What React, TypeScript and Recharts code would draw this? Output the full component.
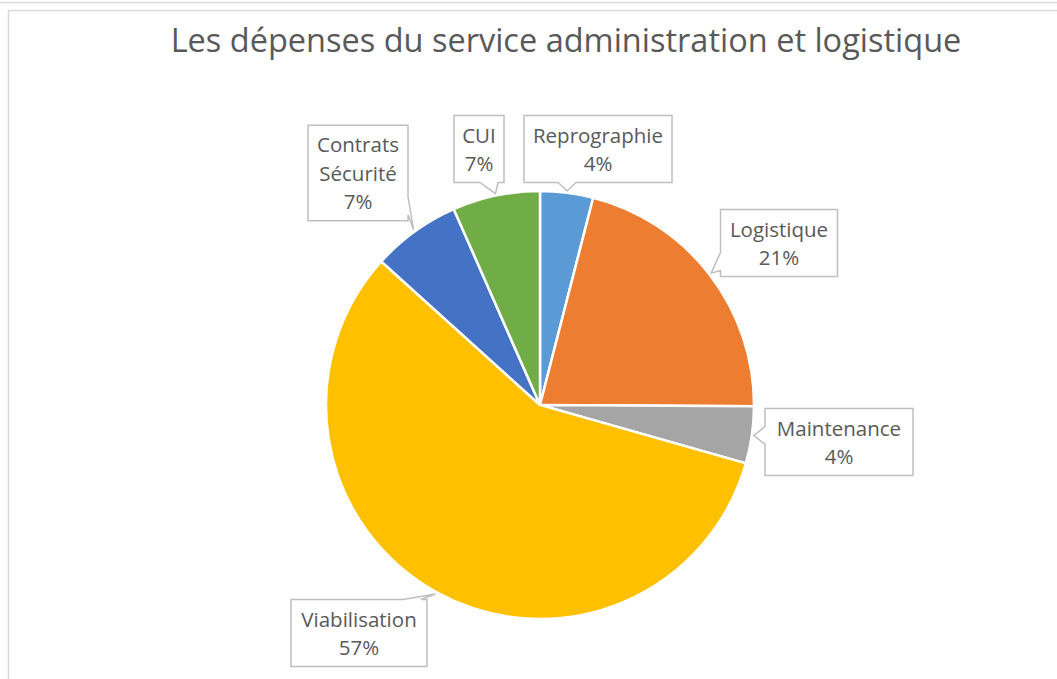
import React from 'react';
import { PieChart, Pie, Cell } from 'recharts';

const TITLE = 'Les dépenses du service administration et logistique';
const NAMES = ['Reprographie', 'Logistique', 'Maintenance', 'Viabilisation', 'Contrats Sécurité', 'CUI'];
const VALUES = [4.0, 21.1, 4.3, 57.3, 6.7, 6.6];
const COLORS = ['#5B9BD5', '#ED7D31', '#A5A5A5', '#FFC000', '#4472C4', '#70AD47'];

const data = NAMES.map((name, i) => ({ name, value: VALUES[i] }));

const W = 1057;
const H = 679;
const CX = 540;
const CY = 405;
const R = 214;
const FONT = '"Open Sans", sans-serif';
const TEXT_COLOR = '#595959';
const LINE_H = 28.5;

// label box placement relative to pie centre (callout style)
const LABEL_LAYOUT: Record<string, { dx: number; dy: number; w: number; side: string }> = {
  Reprographie: { dx: 58, dy: -256, w: 148, side: 'bottom' },
  Logistique: { dx: 239, dy: -162, w: 117, side: 'left' },
  Maintenance: { dx: 299, dy: 37, w: 148, side: 'left' },
  Viabilisation: { dx: -181, dy: 228, w: 136, side: 'top' },
  'Contrats Sécurité': { dx: -182, dy: -232, w: 100, side: 'right' },
  CUI: { dx: -61, dy: -256, w: 50, side: 'bottom' },
};

const clamp = (v: number, a: number, b: number) => Math.max(a, Math.min(b, v));

function calloutPath(x0: number, y0: number, x1: number, y1: number, tx: number, ty: number, side: string) {
  const bw = 18;
  const m = 6;
  if (side === 'bottom') {
    const bx = clamp(tx, x0 + m + bw / 2, x1 - m - bw / 2);
    return `M${x0},${y0}L${x1},${y0}L${x1},${y1}L${bx + bw / 2},${y1}L${tx},${ty}L${bx - bw / 2},${y1}L${x0},${y1}Z`;
  }
  if (side === 'top') {
    const bx = clamp(tx, x0 + m + bw / 2, x1 - m - bw / 2);
    return `M${x0},${y0}L${bx - bw / 2},${y0}L${tx},${ty}L${bx + bw / 2},${y0}L${x1},${y0}L${x1},${y1}L${x0},${y1}Z`;
  }
  if (side === 'left') {
    const by = clamp(ty, y0 + m + bw / 2, y1 - m - bw / 2);
    return `M${x0},${y0}L${x1},${y0}L${x1},${y1}L${x0},${y1}L${x0},${by + bw / 2}L${tx},${ty}L${x0},${by - bw / 2}Z`;
  }
  const by = clamp(ty, y0 + m + bw / 2, y1 - m - bw / 2);
  return `M${x0},${y0}L${x1},${y0}L${x1},${by - bw / 2}L${tx},${ty}L${x1},${by + bw / 2}L${x1},${y1}L${x0},${y1}Z`;
}

const renderLabel = (props: any) => {
  const { cx, cy, midAngle, outerRadius, percent, index } = props;
  const name = NAMES[index];
  const lay = LABEL_LAYOUT[name];
  const lines = [...name.split(' '), `${Math.round(percent * 100)}%`];
  const h = lines.length * LINE_H + 10;
  const bx = cx + lay.dx;
  const by = cy + lay.dy;
  const x0 = bx - lay.w / 2;
  const x1 = bx + lay.w / 2;
  const y0 = by - h / 2;
  const y1 = by + h / 2;
  const rad = (-midAngle * Math.PI) / 180;
  const tx = cx + (outerRadius + 2) * Math.cos(rad);
  const ty = cy + (outerRadius + 2) * Math.sin(rad);
  const start = by - (lines.length * LINE_H) / 2;
  return (
    <g key={`lbl-${index}`}>
      <path d={calloutPath(x0, y0, x1, y1, tx, ty, lay.side)} fill="#ffffff" stroke="#BFBFBF" strokeWidth={1.5} />
      {lines.map((t, i) => (
        <text
          key={i}
          x={bx}
          y={start + i * LINE_H + 22}
          textAnchor="middle"
          fontFamily={FONT}
          fontSize={20.5}
          fill={TEXT_COLOR}
        >
          {t}
        </text>
      ))}
    </g>
  );
};

export default function App() {
  return (
    <div style={{ position: 'absolute', left: 0, top: 0, width: W, height: H, background: '#fff', overflow: 'hidden' }}>
      <svg width={W} height={H} style={{ position: 'absolute', left: 0, top: 0 }}>
        <line x1={0} y1={2.5} x2={W} y2={2.5} stroke="#D9D9D9" strokeWidth={1.5} />
        <line x1={8} y1={10.5} x2={W} y2={10.5} stroke="#D9D9D9" strokeWidth={1.5} />
        <line x1={8.5} y1={10} x2={8.5} y2={H} stroke="#D9D9D9" strokeWidth={1.5} />
        <text x={566} y={52} textAnchor="middle" fontFamily={FONT} fontSize={32.5} fill={TEXT_COLOR}>
          {TITLE}
        </text>
      </svg>
      <div style={{ position: 'absolute', left: 0, top: 0 }}>
        <PieChart width={W} height={H} margin={{ top: 0, right: 0, bottom: 0, left: 0 }}>
          <Pie
            data={data}
            dataKey="value"
            nameKey="name"
            cx={CX}
            cy={CY}
            outerRadius={R}
            startAngle={90}
            endAngle={-270}
            stroke="#ffffff"
            strokeWidth={2.5}
            isAnimationActive={false}
            label={renderLabel}
            labelLine={false}
          >
            {data.map((d, i) => (
              <Cell key={d.name} fill={COLORS[i]} />
            ))}
          </Pie>
        </PieChart>
      </div>
    </div>
  );
}
